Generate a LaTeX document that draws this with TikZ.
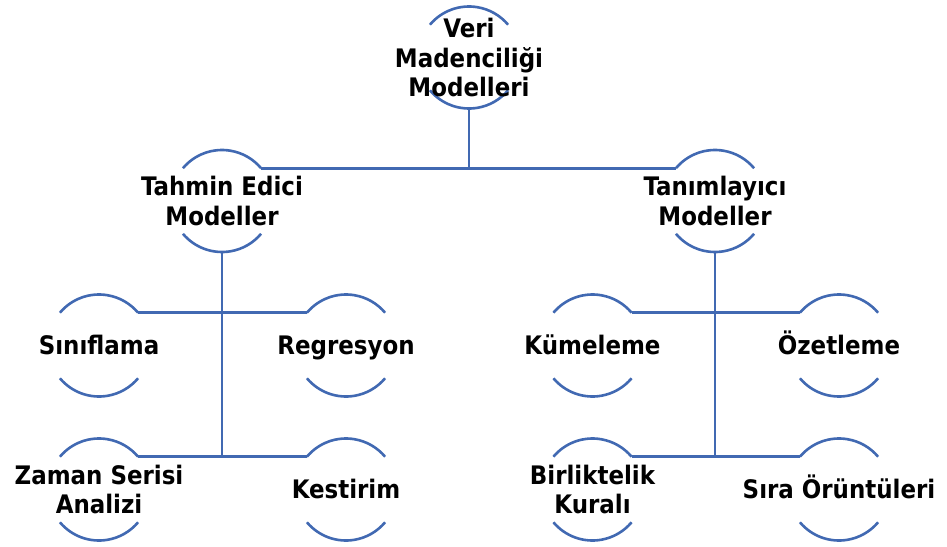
\documentclass[tikz,border=0pt]{standalone}
\usepackage{fontspec}
\setmainfont{DejaVu Sans Condensed}
\definecolor{lineblue}{RGB}{65,105,178}
\begin{document}
\begin{tikzpicture}[x=1pt,y=1pt,
  ringnode/.style={circle, minimum size=102pt, inner sep=0pt, outer sep=0pt, draw=none},
  txt/.style={align=center, inner sep=0pt, text=black, font=\fontsize{25.5}{29.5}\selectfont\bfseries},
  oneline/.style={text height=18.6pt, text depth=0pt},
  ring/.style={draw=lineblue, line width=2.6pt},
  conn/.style={draw=lineblue, line width=2.6pt}]
\useasboundingbox (0,0) rectangle (947,-546);
% circles (invisible shapes used as anchors)
\node[ringnode] (root)   at (469,-57.5) {};
\node[ringnode] (tahmin) at (222,-201) {};
\node[ringnode] (tanim)  at (715,-201) {};
\node[ringnode] (sinif)  at (99,-345.5) {};
\node[ringnode] (regr)   at (346,-345.5) {};
\node[ringnode] (kume)   at (592.5,-345.5) {};
\node[ringnode] (ozet)   at (839,-345.5) {};
\node[ringnode] (zaman)  at (99,-489.5) {};
\node[ringnode] (kest)   at (346,-489.5) {};
\node[ringnode] (birlik) at (592.5,-489.5) {};
\node[ringnode] (sira)   at (839,-489.5) {};
% arcs
\foreach \n in {root,tahmin,tanim,sinif,regr,kume,ozet,zaman,kest,birlik,sira}{
  \draw[ring] (\n.140) arc[start angle=140, end angle=40, radius=51pt];
  \draw[ring] (\n.220) arc[start angle=220, end angle=320, radius=51pt];
}
% connectors
\draw[conn] (root.south) -- (root.south |- tahmin.40);
\draw[conn] (tahmin.40) -- (tanim.140);
\draw[conn] (tahmin.south) -- (tahmin.south |- zaman.40);
\draw[conn] (tanim.south) -- (tanim.south |- birlik.40);
\draw[conn] (sinif.40) -- (regr.140);
\draw[conn] (zaman.40) -- (kest.140);
\draw[conn] (kume.40) -- (ozet.140);
\draw[conn] (birlik.40) -- (sira.140);
% texts
\node[txt] (root-t)   at (root)   {Veri\\Madenciliği\\Modelleri};
\node[txt] (tahmin-t) at (tahmin) {Tahmin Edici\\Modeller};
\node[txt] (tanim-t)  at (tanim)  {Tanımlayıcı\\Modeller};
\node[txt,oneline] (sinif-t)  at (sinif)  {Sınıflama};
\node[txt,oneline] (regr-t)   at (regr)   {Regresyon};
\node[txt,oneline] (kume-t)   at (kume)   {Kümeleme};
\node[txt,oneline] (ozet-t)   at (ozet)   {Özetleme};
\node[txt] (zaman-t)  at (zaman)  {Zaman Serisi\\Analizi};
\node[txt,oneline] (kest-t)   at (kest)   {Kestirim};
\node[txt] (birlik-t) at (birlik) {Birliktelik\\Kuralı};
\node[txt,oneline] (sira-t)   at (sira)   {Sıra Örüntüleri};
\end{tikzpicture}
\end{document}
